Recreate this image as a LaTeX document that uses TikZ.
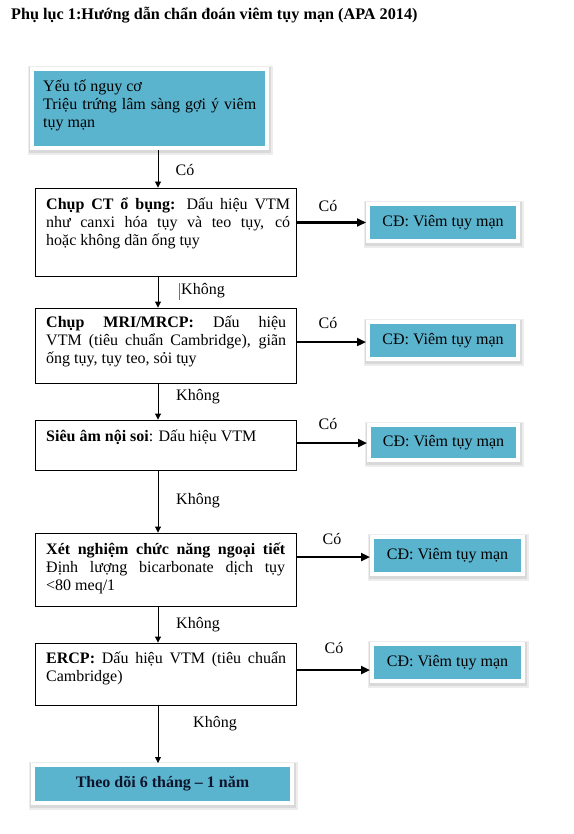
\documentclass[tikz,border=0pt]{standalone}
\usepackage{fontspec}
\setmainfont{Liberation Serif}
\usetikzlibrary{arrows.meta}
\definecolor{cyanc}{RGB}{91,180,206}
\definecolor{navytext}{RGB}{15,20,45}
\begin{document}
\begin{tikzpicture}[x=1pt,y=-1pt,
 rectbox/.style={draw=black, line width=0.9pt, inner sep=0, minimum width=261pt},
 cyanbox/.style={fill=cyanc, draw=white, line width=4pt, inner sep=0,
   preaction={draw=black!7, line width=10pt, transform canvas={xshift=0.6pt,yshift=-1.8pt}},
   preaction={draw=black!15, line width=6.5pt, transform canvas={xshift=0.4pt,yshift=-1.3pt}}},
 cdbox/.style={cyanbox, minimum width=150pt, minimum height=37pt, font=\fontsize{16}{18.4}\selectfont},
 txt/.style={anchor=north west, inner sep=0, align=justify, font=\fontsize{16}{18.4}\selectfont},
 lbl/.style={font=\fontsize{16}{18.4}\selectfont, inner sep=0},
 down/.style={-{Triangle[length=6pt,width=6pt]}, line width=0.9pt},
 yes/.style={-{Triangle[length=9pt,width=8pt]}, line width=2.7pt},
]
\fill[white] (0,0) rectangle (573,834);
\useasboundingbox (0,0) rectangle (573,834);

\node[anchor=base west, inner sep=0, font=\bfseries\fontsize{16.2}{19}\selectfont] (title) at (11,20)
  {Phụ lục 1:Hướng dẫn chẩn đoán viêm tụy mạn (APA 2014)};

% main column boxes
\node[cyanbox, minimum width=235pt, minimum height=79pt] (top) at (149.5,108.5) {};
\node[rectbox, minimum height=88pt] (ct) at (165.5,232) {};
\node[rectbox, minimum height=75pt] (mri) at (165.5,345.5) {};
\node[rectbox, minimum height=50pt] (eus) at (165.5,445) {};
\node[rectbox, minimum height=73pt] (xn) at (165.5,569.5) {};
\node[rectbox, minimum height=62pt] (ercp) at (165.5,674) {};
\node[cyanbox, minimum width=259pt, minimum height=38pt, text=navytext,
      font=\bfseries\fontsize{16}{18.4}\selectfont] (follow) at (162.5,784) {Theo dõi 6 tháng – 1 năm};

% texts
\node[txt, text width=213pt] (t0) at (43,78) {\strut Yếu tố nguy cơ\\ Triệu trứng lâm sàng gợi ý viêm\linebreak tụy mạn};
\node[txt, text width=244pt] (tct) at (46,196) {\strut\textbf{Chụp CT ổ bụng:} Dấu hiệu VTM\linebreak như canxi hóa tụy và teo tụy, có\linebreak hoặc không dãn ống tụy};
\node[txt, text width=240pt] (tmri) at (46,314) {\strut\textbf{Chụp MRI/MRCP:} Dấu hiệu\linebreak VTM (tiêu chuẩn Cambridge), giãn\linebreak ống tụy, tụy teo, sỏi tụy};
\node[txt, text width=240pt] (teus) at (46,428) {\strut\textbf{Siêu âm nội soi}: Dấu hiệu VTM};
\node[txt, text width=239pt] (txn) at (46,541) {\strut\textbf{Xét nghiệm chức năng ngoại tiết}\linebreak Định lượng bicarbonate dịch tụy\linebreak <80 meq/1};
\node[txt, text width=240pt] (tercp) at (46,650) {\strut\textbf{ERCP:} Dấu hiệu VTM (tiêu chuẩn\linebreak Cambridge)};

% diagnosis boxes
\node[cdbox] (cd1) at (443,222.5) {CĐ: Viêm tụy mạn};
\node[cdbox] (cd2) at (443,340.5) {CĐ: Viêm tụy mạn};
\node[cdbox, minimum width=149pt, minimum height=35pt] (cd3) at (443.5,442.5) {CĐ: Viêm tụy mạn};
\node[cdbox, minimum width=151pt] (cd4) at (447.5,555.5) {CĐ: Viêm tụy mạn};
\node[cdbox, minimum width=151pt] (cd5) at (447.5,662.5) {CĐ: Viêm tụy mạn};

% vertical connectors
\coordinate (vx) at (158,0);
\draw[down] (top.south -| vx) -- (ct.north -| vx);
\draw[down] (ct.south -| vx) -- (mri.north -| vx);
\draw[down] (mri.south -| vx) -- (eus.north -| vx);
\draw[down] (eus.south -| vx) -- (xn.north -| vx);
\draw[down] (xn.south -| vx) -- (ercp.north -| vx);
\draw[down] (ercp.south -| vx) -- (follow.north -| vx);

% horizontal connectors
\coordinate (a1) at (cd1.west);
\coordinate (a2) at ([yshift=-1.5pt]cd2.west);
\coordinate (a3) at ([yshift=-0.5pt]cd3.west);
\coordinate (a4) at ([yshift=-1.5pt]cd4.west);
\coordinate (a5) at ([yshift=-7.5pt]cd5.west);
\draw[yes] (ct.east |- a1) -- (a1);
\draw[yes] (mri.east |- a2) -- (a2);
\draw[yes] (eus.east |- a3) -- (a3);
\draw[yes] (xn.east |- a4) -- (a4);
\draw[yes] (ercp.east |- a5) -- (a5);

% labels
\node[lbl] (c0) at (185,170) {Có};
\node[lbl] (c1) at (328,206) {Có};
\node[lbl] (c2) at (328,323) {Có};
\node[lbl] (c3) at (328,424) {Có};
\node[lbl] (c4) at (332,539) {Có};
\node[lbl] (c5) at (334,648) {Có};
\node[lbl] (k1) at (203,291) {Không};
\node[lbl] (k2) at (198,397) {Không};
\node[lbl] (k3) at (198,501) {Không};
\node[lbl] (k4) at (198,625) {Không};
\node[lbl] (k5) at (215,724) {Không};
\draw[black!55, line width=0.4pt] (179,283) -- (179,300);
\end{tikzpicture}
\end{document}
